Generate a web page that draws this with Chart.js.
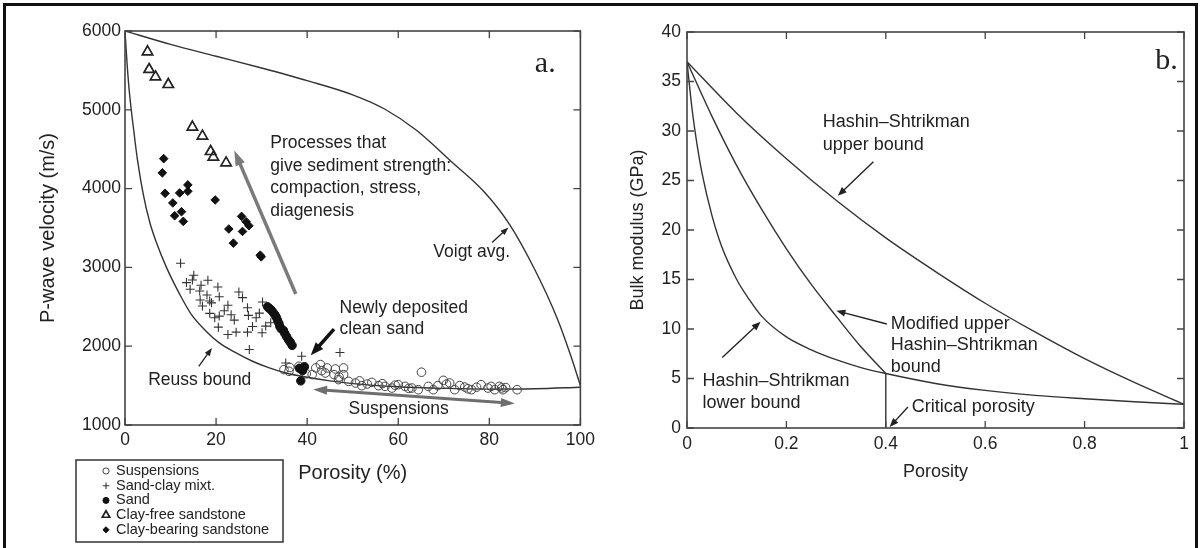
<!DOCTYPE html>
<html>
<head>
<meta charset="utf-8">
<script src="https://cdn.jsdelivr.net/npm/chart.js@4"></script>
<style>
  html, body { margin: 0; padding: 0; background: #fff; }
  #wrap { position: relative; width: 1203px; height: 548px; overflow: hidden; }
  #frame { position: absolute; left: 3px; top: 3px; width: 1189px; height: 570px; border: 3px solid #111; border-bottom: none; }
  #a { position: absolute; left: 0; top: 0; }
  #b { position: absolute; left: 600px; top: 0; }
</style>
</head>
<body>
<div id="wrap">
  <canvas id="a" width="600" height="548"></canvas>
  <canvas id="b" width="603" height="548"></canvas>
  <div id="frame"></div>
</div>
<script>
const SANS = '"Liberation Sans", Arial, Helvetica, sans-serif';
const SERIF = '"Liberation Serif", "Times New Roman", serif';

// ---- panel a: P-wave velocity vs porosity ----
const porTicksA = [0, 20, 40, 60, 80, 100];
const velTicks = [1000, 2000, 3000, 4000, 5000, 6000];

const voigtX = [0, 10, 20, 30, 40, 50, 57, 64, 71.7, 79, 84.5, 90, 95, 98, 100];
const voigtV = [6000, 5830, 5680, 5530, 5370, 5190, 5010, 4740, 4340, 3950, 3540, 2970, 2340, 1860, 1500];

const reussX = [0, 0.5, 1, 2, 2.7, 4, 5.5, 7, 9.1, 12, 14.6, 17.8, 20.7, 24.4, 28, 31.7, 35.3, 39.7, 45, 50, 60, 70, 80, 90, 100];
const reussV = [6000, 5550, 5200, 4700, 4380, 3930, 3560, 3300, 3000, 2660, 2400, 2191, 2042, 1915, 1809, 1724, 1660, 1609, 1560, 1525, 1485, 1465, 1455, 1460, 1480];

const suspX = [34.9, 36.0, 36.2, 38.2, 39.8, 41.1, 41.9, 42.9, 43.2, 44.4, 44.0, 45.9, 46.2, 47.0, 48.0, 48.0, 46.9, 49.1, 50.6, 51.5, 52.0, 53.2, 54.2, 55.7, 56.5, 57.1, 58.6, 59.3, 60.0, 61.5, 62.3, 63.0, 64.4, 65.1, 66.6, 67.7, 68.7, 69.9, 70.6, 71.3, 72.4, 73.5, 74.6, 75.3, 76.1, 77.2, 78.2, 79.7, 80.4, 81.2, 82.2, 82.7, 83.0, 83.6, 86.1];
const suspV = [1703, 1682, 1730, 1745, 1650, 1640, 1725, 1767, 1690, 1724, 1660, 1640, 1711, 1610, 1724, 1640, 1576, 1554, 1533, 1560, 1499, 1520, 1541, 1499, 1525, 1490, 1469, 1505, 1512, 1490, 1465, 1469, 1448, 1670, 1490, 1448, 1500, 1567, 1520, 1533, 1448, 1500, 1482, 1460, 1448, 1480, 1512, 1469, 1490, 1448, 1490, 1470, 1448, 1475, 1448];

const mixX = [12.2, 15.1, 14.8, 13.5, 16.7, 18.2, 20.4, 14.3, 16.4, 18.0, 16.5, 18.6, 20.7, 22.6, 25.0, 25.8, 17.0, 18.6, 19.7, 20.7, 20.5, 22.6, 24.4, 24.0, 26.9, 27.1, 26.9, 28.8, 30.2, 30.1, 30.9, 32.0, 27.3, 38.8, 35.3, 47.2, 21.8, 23.3, 28.0, 29.5, 19.0];
const mixV = [3053, 2900, 2841, 2807, 2773, 2837, 2752, 2722, 2700, 2650, 2586, 2573, 2628, 2519, 2688, 2616, 2510, 2417, 2361, 2382, 2242, 2148, 2178, 2331, 2488, 2391, 2178, 2361, 2561, 2170, 2255, 2297, 1958, 1873, 1787, 1920, 2450, 2400, 2250, 2420, 2550];

const sandX = [31.3, 31.7, 32.1, 32.5, 32.9, 33.2, 33.5, 33.8, 34.0, 34.3, 34.8, 35.1, 35.5, 35.9, 36.3, 36.7, 38.3, 39.0, 39.4, 38.6];
const sandV = [2500, 2480, 2460, 2430, 2400, 2370, 2330, 2290, 2250, 2220, 2200, 2160, 2120, 2080, 2050, 2010, 1720, 1690, 1740, 1560];

const cfX = [4.95, 5.3, 6.7, 9.5, 14.8, 17.0, 18.8, 19.4, 22.2];
const cfV = [5736, 5512, 5418, 5321, 4781, 4666, 4471, 4399, 4327];

const cbX = [8.5, 8.2, 8.8, 10.5, 12.0, 13.8, 13.8, 19.8, 10.9, 12.4, 12.8, 22.8, 23.8, 25.6, 25.8, 26.6, 27.2, 29.7, 29.9];
const cbV = [4380, 4200, 3940, 3818, 3945, 4047, 3966, 3856, 3656, 3707, 3584, 3487, 3308, 3647, 3456, 3580, 3529, 3155, 3134];

// ---- panel b: bulk modulus vs porosity ----
const porTicksB = [0, 0.2, 0.4, 0.6, 0.8, 1];
const kTicks = [0, 5, 10, 15, 20, 25, 30, 35, 40];

const phiUp = [0, 0.1, 0.2, 0.3, 0.4, 0.5, 0.6, 0.7, 0.8, 0.9, 1.0];
const kUp = [37, 31.8, 27.2, 23.0, 19.2, 15.8, 12.6, 9.7, 7.0, 4.6, 2.4];

const phiLo = [0, 0.01, 0.02, 0.03, 0.05, 0.07, 0.1, 0.125, 0.15, 0.2, 0.25, 0.3, 0.35, 0.4, 0.5, 0.6, 0.7, 0.8, 0.9, 1.0];
const kLo = [37, 32.3, 28.7, 25.8, 21.5, 18.3, 15.0, 13.0, 11.3, 9.2, 7.9, 6.9, 6.1, 5.5, 4.5, 3.8, 3.3, 2.95, 2.65, 2.4];

const phiMod = [0, 0.05, 0.1, 0.15, 0.2, 0.25, 0.3, 0.35, 0.4];
const kMod = [37, 31.5, 26.5, 22.1, 18.1, 14.5, 11.3, 8.2, 5.5];

const phiCrit = [0.4, 0.4];
const kCrit = [0, 5.5];

const pts = (xs, ys) => xs.map((x, i) => ({ x, y: ys[i] }));

function head(ctx, x, y, ang, hl, hw) {
  const bx = x - Math.cos(ang) * hl, by = y - Math.sin(ang) * hl;
  const px = -Math.sin(ang) * hw / 2, py = Math.cos(ang) * hw / 2;
  ctx.beginPath();
  ctx.moveTo(x, y);
  ctx.lineTo(bx + px, by + py);
  ctx.lineTo(bx - px, by - py);
  ctx.closePath();
  ctx.fill();
}

function arrow(ctx, x1, y1, x2, y2, s) {
  const ang = Math.atan2(y2 - y1, x2 - x1);
  const back = s.head * 0.7;
  ctx.strokeStyle = s.color;
  ctx.fillStyle = s.color;
  ctx.lineWidth = s.width;
  let sx = x1, sy = y1;
  if (s.both) { sx = x1 + Math.cos(ang) * back; sy = y1 + Math.sin(ang) * back; }
  ctx.beginPath();
  ctx.moveTo(sx, sy);
  ctx.lineTo(x2 - Math.cos(ang) * back, y2 - Math.sin(ang) * back);
  ctx.stroke();
  head(ctx, x2, y2, ang, s.head, s.headW);
  if (s.both) head(ctx, x1, y1, ang + Math.PI, s.head, s.headW);
}

const deco = {
  id: 'deco',
  afterDraw(chart, args, o) {
    const { ctx, chartArea: a, scales: { x, y } } = chart;
    ctx.save();
    ctx.lineCap = 'butt';

    // inward tick marks on all four sides
    ctx.strokeStyle = '#444';
    ctx.lineWidth = 1.3;
    ctx.beginPath();
    x.ticks.forEach(t => {
      const px = x.getPixelForValue(t.value);
      ctx.moveTo(px, a.bottom); ctx.lineTo(px, a.bottom - o.tick);
      ctx.moveTo(px, a.top); ctx.lineTo(px, a.top + o.tick);
    });
    y.ticks.forEach(t => {
      const py = y.getPixelForValue(t.value);
      ctx.moveTo(a.left, py); ctx.lineTo(a.left + o.tick, py);
      ctx.moveTo(a.right, py); ctx.lineTo(a.right - o.tick, py);
    });
    ctx.stroke();

    // plot frame
    ctx.lineWidth = 1.6;
    ctx.strokeRect(a.left, a.top, a.right - a.left, a.bottom - a.top);

    // axis titles
    ctx.fillStyle = '#222';
    ctx.textBaseline = 'middle';
    ctx.textAlign = 'center';
    ctx.font = o.titleFont;
    ctx.fillText(o.xTitle, (a.left + a.right) / 2, a.bottom + o.xTitleOff);
    ctx.save();
    ctx.translate(a.left - o.yTitleOff, (a.top + a.bottom) / 2);
    ctx.rotate(-Math.PI / 2);
    ctx.fillText(o.yTitle, 0, 0);
    ctx.restore();

    // arrows
    o.arrows.forEach(ar => {
      arrow(ctx, x.getPixelForValue(ar.from[0]), y.getPixelForValue(ar.from[1]),
        x.getPixelForValue(ar.to[0]), y.getPixelForValue(ar.to[1]), ar);
    });

    // annotation texts
    ctx.textAlign = 'left';
    o.texts.forEach(t => {
      ctx.font = t.font;
      ctx.fillStyle = '#222';
      const px = x.getPixelForValue(t.at[0]);
      const py = y.getPixelForValue(t.at[1]);
      t.lines.forEach((ln, i) => ctx.fillText(ln, px, py + i * t.lh));
    });

    // legend box (panel a)
    if (o.legend) {
      const L = o.legend;
      ctx.strokeStyle = '#333';
      ctx.lineWidth = 1.5;
      ctx.strokeRect(L.box[0], L.box[1], L.box[2], L.box[3]);
      ctx.font = L.font;
      const items = chart.data.datasets.filter(d => d.inLegend);
      items.forEach((d, i) => {
        const yy = L.y0 + i * L.dy;
        ctx.strokeStyle = d.borderColor;
        ctx.fillStyle = d.backgroundColor;
        ctx.lineWidth = d.borderWidth;
        if (Chart.helpers && Chart.helpers.drawPoint) {
          Chart.helpers.drawPoint(ctx, { pointStyle: d.pointStyle, radius: d.pointRadius * 0.72, rotation: 0, borderWidth: d.borderWidth }, L.sx, yy);
        }
        ctx.fillStyle = '#222';
        ctx.fillText(d.label, L.tx, yy);
      });
    }
    ctx.restore();
  }
};

const lineSet = (label, data, order) => ({
  label, data, showLine: true, pointRadius: 0, borderColor: '#333', borderWidth: 1.4,
  cubicInterpolationMode: 'monotone', fill: false, order
});

const axis = (min, max, tickVals, font, pad, fit) => ({
  type: 'linear', min, max,
  afterBuildTicks: s => { s.ticks = tickVals.map(v => ({ value: v })); },
  afterFit: fit,
  grid: { display: false, drawTicks: false },
  border: { display: false },
  ticks: {
    padding: pad, color: '#222', font: { family: SANS, size: font }, maxRotation: 0, autoSkip: false,
    callback: v => String(v)
  }
});

const common = {
  responsive: false,
  animation: false,
  events: []
};

// ---------- chart a ----------
new Chart(document.getElementById('a'), {
  type: 'scatter',
  data: {
    datasets: [
      lineSet('Voigt avg.', pts(voigtX, voigtV), 10),
      lineSet('Reuss bound', pts(reussX, reussV), 10),
      { label: 'Suspensions', data: pts(suspX, suspV), inLegend: true, order: 4,
        pointStyle: 'circle', pointRadius: 4.3, borderColor: '#444', backgroundColor: 'rgba(255,255,255,0)', borderWidth: 1 },
      { label: 'Sand-clay mixt.', data: pts(mixX, mixV), inLegend: true, order: 3,
        pointStyle: 'cross', pointRadius: 4.5, borderColor: '#333', backgroundColor: '#333', borderWidth: 1.1 },
      { label: 'Sand', data: pts(sandX, sandV), inLegend: true, order: 2,
        pointStyle: 'circle', pointRadius: 4.2, borderColor: '#111', backgroundColor: '#111', borderWidth: 1 },
      { label: 'Clay-free sandstone', data: pts(cfX, cfV), inLegend: true, order: 1,
        pointStyle: 'triangle', pointRadius: 6, borderColor: '#222', backgroundColor: 'rgba(255,255,255,0)', borderWidth: 1.7 },
      { label: 'Clay-bearing sandstone', data: pts(cbX, cbV), inLegend: true, order: 1,
        pointStyle: 'rectRot', pointRadius: 4.3, borderColor: '#111', backgroundColor: '#111', borderWidth: 1 }
    ]
  },
  options: {
    ...common,
    layout: { padding: { left: 0, right: 17, top: 31, bottom: 0 } },
    plugins: {
      legend: { display: false },
      tooltip: { enabled: false },
      deco: {
        tick: 7,
        titleFont: '20px ' + SANS,
        xTitle: 'Porosity (%)', xTitleOff: 48,
        yTitle: 'P-wave velocity (m/s)', yTitleOff: 77,
        arrows: [
          { from: [37.5, 2662], to: [24.0, 4484], color: '#7a7a7a', width: 3.5, head: 15, headW: 10 },
          { from: [41.3, 1452], to: [85.6, 1274], both: true, color: '#6e6e6e', width: 3, head: 14, headW: 9 },
          { from: [45.9, 2216], to: [40.8, 1885], color: '#111', width: 3.5, head: 13, headW: 10 },
          { from: [16.2, 1745], to: [19.1, 1978], color: '#222', width: 1.3, head: 8, headW: 6 },
          { from: [80.6, 3316], to: [84.2, 3507], color: '#222', width: 1.3, head: 8, headW: 6 }
        ],
        texts: [
          { at: [31.9, 4573], lh: 22.5, font: '17.5px ' + SANS, lines: ['Processes that', 'give sediment strength:', 'compaction, stress,', 'diagenesis'] },
          { at: [67.7, 3188], lh: 21, font: '17.5px ' + SANS, lines: ['Voigt avg.'] },
          { at: [47.1, 2488], lh: 21, font: '17.5px ' + SANS, lines: ['Newly deposited', 'clean sand'] },
          { at: [5.1, 1567], lh: 21, font: '17.5px ' + SANS, lines: ['Reuss bound'] },
          { at: [49.1, 1201], lh: 21, font: '17.5px ' + SANS, lines: ['Suspensions'] },
          { at: [90.0, 5580], lh: 30, font: '30px ' + SERIF, lines: ['a.'] }
        ],
        legend: { box: [76, 460, 207, 82], font: '14.5px ' + SANS, y0: 471, dy: 14.7, sx: 106, tx: 116 }
      }
    },
    scales: {
      x: axis(0, 100, porTicksA, 17.5, 5, s => { s.height = 123; }),
      y: axis(1000, 6000, velTicks, 17.5, 4, s => { s.width = 125; })
    }
  },
  plugins: [deco]
});

// ---------- chart b ----------
new Chart(document.getElementById('b'), {
  type: 'scatter',
  data: {
    datasets: [
      lineSet('Hashin–Shtrikman upper bound', pts(phiUp, kUp), 1),
      lineSet('Hashin–Shtrikman lower bound', pts(phiLo, kLo), 1),
      lineSet('Modified upper Hashin–Shtrikman bound', pts(phiMod, kMod), 1),
      { ...lineSet('Critical porosity', pts(phiCrit, kCrit), 1), cubicInterpolationMode: 'default', tension: 0 }
    ]
  },
  options: {
    ...common,
    layout: { padding: { left: 0, right: 19, top: 32, bottom: 0 } },
    plugins: {
      legend: { display: false },
      tooltip: { enabled: false },
      deco: {
        tick: 7,
        titleFont: '18px ' + SANS,
        xTitle: 'Porosity', xTitleOff: 44,
        yTitle: 'Bulk modulus (GPa)', yTitleOff: 49,
        arrows: [
          { from: [0.375, 26.9], to: [0.3035, 23.45], color: '#222', width: 1.4, head: 9, headW: 7 },
          { from: [0.402, 10.5], to: [0.3005, 11.84], color: '#222', width: 1.4, head: 9, headW: 7 },
          { from: [0.071, 7.13], to: [0.148, 10.73], color: '#222', width: 1.4, head: 9, headW: 7 },
          { from: [0.4445, 2.13], to: [0.4077, 0.1], color: '#222', width: 1.4, head: 9, headW: 7 }
        ],
        texts: [
          { at: [0.273, 30.87], lh: 22.3, font: '18px ' + SANS, lines: ['Hashin–Shtrikman', 'upper bound'] },
          { at: [0.41, 10.5], lh: 21.4, font: '18px ' + SANS, lines: ['Modified upper', 'Hashin–Shtrikman', 'bound'] },
          { at: [0.031, 4.76], lh: 22.6, font: '18px ' + SANS, lines: ['Hashin–Shtrikman', 'lower bound'] },
          { at: [0.452, 2.13], lh: 21, font: '18px ' + SANS, lines: ['Critical porosity'] },
          { at: [0.942, 37.1], lh: 30, font: '30px ' + SERIF, lines: ['b.'] }
        ]
      }
    },
    scales: {
      x: axis(0, 1, porTicksB, 17.5, 6, s => { s.height = 120; }),
      y: axis(0, 40, kTicks, 17.5, 6, s => { s.width = 87; })
    }
  },
  plugins: [deco]
});
</script>
</body>
</html>
